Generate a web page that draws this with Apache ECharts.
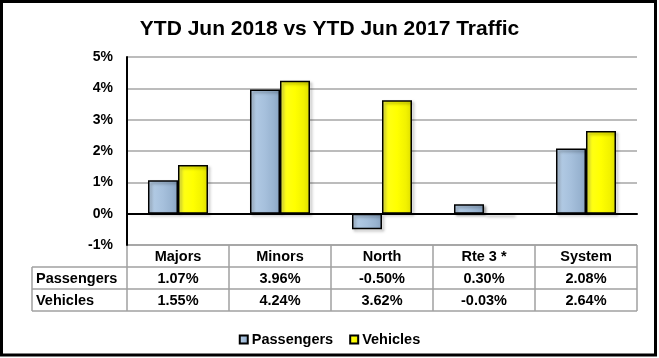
<!DOCTYPE html>
<html><head><meta charset="utf-8">
<script src="https://cdn.jsdelivr.net/npm/echarts@6/dist/echarts.min.js"></script>
<style>html,body{margin:0;padding:0;background:#fff}#c{width:659px;height:358px}</style>
</head><body><div id="c"></div>
<script>
const titleText = 'YTD Jun 2018 vs YTD Jun 2017 Traffic';
const categories = ['Majors', 'Minors', 'North', 'Rte 3 *', 'System'];
const seriesNames = ['Passengers', 'Vehicles'];
const passengers = [1.07, 3.96, -0.50, 0.30, 2.08];
const vehicles = [1.55, 4.24, 3.62, -0.03, 2.64];
const yMin = -1, yMax = 5, yStep = 1;

const FONT = "'Liberation Sans', Arial, sans-serif";
const blueFill = new echarts.graphic.LinearGradient(0, 0, 1, 0, [
  {offset: 0, color: '#c2d8ee'}, {offset: 0.2, color: '#b0c9e3'}, {offset: 0.5, color: '#a6c0dc'},
  {offset: 0.8, color: '#98b3d0'}, {offset: 1, color: '#8aa4c2'}]);
const yellowFill = new echarts.graphic.LinearGradient(0, 0, 1, 0, [
  {offset: 0, color: '#ffff50'}, {offset: 0.2, color: '#ffff14'}, {offset: 0.5, color: '#ffff00'},
  {offset: 0.8, color: '#f2f200'}, {offset: 1, color: '#dede00'}]);

const chart = echarts.init(document.getElementById('c'), null, {renderer: 'canvas'});
const barStyle = (fill) => ({
  color: fill, borderColor: '#000', borderWidth: 1.5,
  shadowColor: 'rgba(0,0,0,0.35)', shadowBlur: 3, shadowOffsetX: 2, shadowOffsetY: 2
});
chart.setOption({
  animation: false,
  backgroundColor: '#fff',
  title: {
    text: titleText, left: 'center', top: 14,
    textStyle: {fontFamily: FONT, fontWeight: 'bold', fontSize: 21, color: '#000'}
  },
  grid: {left: 127, right: 22, top: 57, bottom: 113},
  legend: {
    data: seriesNames, left: 'center', top: 327, icon: 'rect',
    itemWidth: 8, itemHeight: 8, itemGap: 16,
    textStyle: {fontFamily: FONT, fontWeight: 'bold', fontSize: 14.5, color: '#000', padding: [0, 0, 0, -1]}
  },
  xAxis: {
    type: 'category', data: categories,
    axisLine: {onZero: true, lineStyle: {color: '#000', width: 2}},
    axisTick: {show: false}, axisLabel: {show: false}, splitLine: {show: false}
  },
  yAxis: {
    type: 'value', min: yMin, max: yMax, interval: yStep,
    axisLine: {show: true, lineStyle: {color: '#000', width: 2}},
    axisTick: {show: false},
    axisLabel: {formatter: '{value}%', fontFamily: FONT, fontWeight: 'bold', fontSize: 14, color: '#000', margin: 14},
    splitLine: {lineStyle: {color: '#a6a6a6', width: 1.5}}
  },
  series: [
    {name: seriesNames[0], type: 'bar', data: passengers, barWidth: 30, barGap: '0%', itemStyle: barStyle(blueFill)},
    {name: seriesNames[1], type: 'bar', data: vehicles, barWidth: 30, barGap: '0%', itemStyle: barStyle(yellowFill)}
  ]
});

// data table under the plot, built from the arrays and the axis scale
const rows = [[seriesNames[0], passengers], [seriesNames[1], vehicles]];
const centers = categories.map(c => chart.convertToPixel({xAxisIndex: 0}, c));
const band = centers[1] - centers[0];
const xl = centers[0] - band / 2, xr = centers[centers.length - 1] + band / 2;
const yTop = chart.convertToPixel({yAxisIndex: 0}, yMin);
const rowH = 22, labelLeft = 32;
const lineC = '#a0a0a0';
const g = [];
const txt = (t, x, y, align) => ({
  type: 'text', silent: true,
  style: {text: t, x, y, align, textAlign: align, verticalAlign: 'middle', textVerticalAlign: 'middle',
    font: 'bold 14.5px ' + FONT, fill: '#000'}
});
const line = (x1, y1, x2, y2) => ({type: 'line', silent: true, shape: {x1, y1, x2, y2},
  style: {stroke: lineC, lineWidth: 1.5}});
const yBot = yTop + rowH * (rows.length + 1);
for (let i = 0; i <= categories.length; i++) {
  const x = xl + band * i;
  g.push(line(x, yTop, x, yBot));
}
g.push(line(labelLeft, yTop + rowH, labelLeft, yBot));
g.push(line(xl, yTop, xr, yTop));
for (let r = 1; r <= rows.length + 1; r++) g.push(line(labelLeft, yTop + rowH * r, xr, yTop + rowH * r));
categories.forEach((c, i) => g.push(txt(c, centers[i], yTop + rowH / 2 + 0.5, 'center')));
rows.forEach((row, r) => {
  const yc = yTop + rowH * (r + 1.5) + 0.5;
  g.push(txt(row[0], labelLeft + 4, yc, 'left'));
  row[1].forEach((v, i) => g.push(txt(v.toFixed(2) + '%', centers[i], yc, 'center')));
});
g.push({type: 'line', silent: true, shape: {x1: xl, y1: chart.convertToPixel({yAxisIndex: 0}, yMax), x2: xl, y2: yTop},
  style: {stroke: '#000', lineWidth: 2}});
g.push({type: 'rect', silent: true, shape: {x: 1.5, y: 1.5, width: 654, height: 353.5},
  style: {fill: null, stroke: '#000', lineWidth: 3}});
chart.setOption({graphic: g});
</script>
</body></html>
